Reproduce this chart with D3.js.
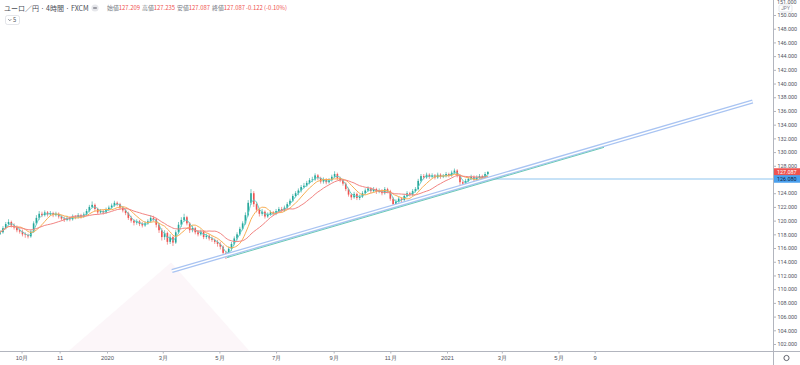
<!DOCTYPE html>
<html>
<head>
<meta charset="utf-8">
<title>ユーロ／円 4時間</title>
<script src="https://cdn.jsdelivr.net/npm/d3@7"></script>
<style>
  body { margin: 0; background: #fff; }
  svg { display: block; font-family: "Noto Sans CJK JP", "Noto Sans", sans-serif; }
</style>
</head>
<body>
<div id="chart"></div>
<script>
// candles: one every 3 days starting 2019-09-08, open = previous close
var startDate = Date.UTC(2019, 8, 8);
var stepDays = 3;
var firstOpen = 118.1;

var closes = [
  118.3,118.9,119.5,119.8,119.3,119.0,118.6,118.4,118.0,117.9,
  117.7,118.4,119.6,120.4,121.0,120.8,121.2,120.9,121.1,120.8,
  121.0,120.6,120.3,120.1,120.4,120.2,120.6,120.5,120.8,120.6,
  120.9,121.4,122.0,122.3,121.7,121.2,121.4,121.2,121.6,121.9,
  122.2,122.6,122.4,121.9,121.5,121.1,120.4,120.0,119.7,119.9,
  119.5,119.3,119.6,119.9,120.4,120.2,119.4,118.6,117.6,118.2,
  116.9,117.6,116.8,118.3,119.4,120.1,120.5,119.6,118.6,118.9,
  118.3,118.0,118.4,117.6,117.8,117.4,117.2,116.9,116.6,116.2,
  115.3,114.8,115.9,116.6,117.4,118.0,118.8,119.6,120.8,122.6,
  124.0,122.4,121.6,121.0,121.3,120.6,120.9,121.2,121.0,121.4,
  121.7,121.5,121.9,122.4,122.9,123.6,124.0,124.4,124.9,125.1,
  125.5,125.9,126.0,126.6,126.2,125.7,126.0,125.6,125.9,126.4,
  126.8,126.2,125.9,125.4,124.6,123.8,123.4,123.9,123.3,123.5,
  124.0,124.4,124.7,124.3,124.6,124.2,124.4,124.0,124.6,124.3,
  123.2,122.4,122.8,123.2,123.0,123.6,124.0,123.8,124.3,124.6,
  125.8,126.5,126.3,126.7,126.4,126.6,126.3,126.7,126.4,126.5,
  126.8,126.6,127.0,127.3,126.6,125.6,125.4,125.8,126.1,126.4,
  126.0,126.3,126.5,126.2,126.8,127.087
];
var highs = [
  118.6,119.2,119.8,120.2,120.0,119.6,119.3,118.9,118.7,118.3,
  118.1,118.7,119.9,120.8,121.4,121.3,121.5,121.4,121.4,121.3,
  121.3,121.2,120.8,120.6,120.7,120.6,120.9,120.8,121.1,121.0,
  121.2,121.7,122.3,122.8,122.5,121.9,121.7,121.6,121.9,122.2,
  122.5,122.9,122.8,122.6,122.1,121.7,121.3,120.7,120.2,120.2,
  120.1,119.8,119.9,120.2,120.8,120.7,120.4,119.6,118.9,118.6,
  118.4,118.0,117.8,118.6,119.8,120.5,121.0,120.7,119.8,119.3,
  119.1,118.6,118.7,118.6,118.1,118.0,117.7,117.4,117.2,116.9,
  116.4,115.6,116.2,116.9,117.7,118.3,119.1,119.9,121.2,123.0,
  124.6,124.3,122.7,121.9,121.7,121.5,121.2,121.5,121.4,121.7,
  122.0,122.0,122.2,122.7,123.2,123.9,124.3,124.7,125.2,125.5,
  125.8,126.2,126.4,126.9,126.8,126.4,126.3,126.2,126.2,126.7,
  127.2,127.0,126.4,126.1,125.6,124.8,124.0,124.2,124.1,123.8,
  124.3,124.7,125.0,124.9,124.9,124.8,124.7,124.6,124.9,124.8,
  124.5,123.4,123.1,123.5,123.4,123.9,124.3,124.2,124.6,124.9,
  126.1,126.8,126.8,127.0,126.9,126.9,126.8,127.0,126.9,126.8,
  127.1,127.0,127.3,127.6,127.5,126.8,125.8,126.1,126.4,126.7,
  126.6,126.6,126.8,126.7,127.1,127.235
];
var lows = [
  117.9,118.1,118.7,119.3,119.0,118.7,118.3,118.1,117.7,117.5,
  117.4,117.5,118.2,119.4,120.1,120.5,120.6,120.6,120.7,120.5,
  120.6,120.3,120.0,119.8,119.9,119.9,120.0,120.2,120.3,120.3,
  120.4,120.7,121.2,121.8,121.4,120.9,121.0,120.9,121.0,121.4,
  121.7,122.0,122.1,121.6,121.2,120.8,120.1,119.7,119.3,119.4,
  119.2,119.0,119.1,119.4,119.7,119.9,119.0,118.2,117.1,117.2,
  116.5,116.6,116.3,116.6,118.1,119.1,119.8,119.3,118.2,118.3,
  118.0,117.7,117.8,117.3,117.3,117.1,116.9,116.6,116.2,115.8,
  115.0,114.4,114.6,115.6,116.4,117.1,117.8,118.6,119.4,120.6,
  122.3,122.0,121.2,120.6,120.7,120.3,120.4,120.7,120.7,120.8,
  121.2,121.2,121.3,121.7,122.2,122.7,123.4,123.7,124.1,124.7,
  124.9,125.3,125.6,125.8,125.9,125.4,125.4,125.3,125.4,125.7,
  126.2,125.9,125.6,125.1,124.3,123.5,123.0,123.2,123.0,123.0,
  123.3,123.8,124.2,124.0,124.1,123.9,124.0,123.7,123.8,124.0,
  122.9,122.0,122.1,122.6,122.7,122.8,123.4,123.5,123.6,124.1,
  124.4,125.6,126.0,126.1,126.1,126.2,126.0,126.1,126.1,126.2,
  126.3,126.3,126.4,126.8,126.3,125.2,125.0,125.2,125.6,125.9,
  125.7,125.8,126.1,125.9,126.0,126.6
];

// moving average periods (in candles) and colours
var maPeriods = [3, 7, 15];
var maColors = ["#5fcfc6", "#f8ae52", "#f28482"];

// axes
var yTickValues = [102,104,106,108,110,112,114,116,118,120,122,124,126,128,130,
                   132,134,136,138,140,142,144,146,148,150];
var xTickDates = ["2019-10-01","2019-11-11","2020-01-01","2020-03-01","2020-05-01",
                  "2020-07-01","2020-09-01","2020-11-01","2021-01-01","2021-03-01",
                  "2021-05-01","2021-06-09"];
var xTickLabels = ["10月","11","2020","3月","5月","7月","9月","11月","2021","3月","5月","9"];

// legend values
var ohlcNames = ["始値", "高値", "安値", "終値"];
var ohlcValues = ["127.209", "127.235", "127.087", "127.087"];
var changeText = "-0.122 (-0.10%)";

// drawings
var trendStart = ["2020-03-11", 112.65];
var trendEnd = ["2021-11-26", 137.38];
var tealStart = ["2020-05-09", 114.6];
var tealEnd = ["2021-06-19", 130.69];
var hLinePrice = 126.080;
var hLineStart = "2021-02-13";
var lastPrice = 127.087;
var triangle = [["2019-11-21", 101.0], ["2020-03-10", 113.9], ["2020-06-02", 101.0]];

var W = 800, H = 365;
var plotR = 773, plotB = 351;
var axisFont = "Roboto, sans-serif";

var svg = d3.select("#chart").append("svg")
  .attr("width", W).attr("height", H);

var x = d3.scaleUtc()
  .domain([new Date(Date.UTC(2020,0,1)), new Date(Date.UTC(2021,0,1))])
  .range([107, 447]);
var y = d3.scaleLinear().domain([102, 150]).range([344, 15]);

var day = 864e5;
var candles = closes.map(function(c, i) {
  return {
    date: new Date(startDate + i*stepDays*day),
    open: i === 0 ? firstOpen : closes[i-1],
    high: highs[i], low: lows[i], close: c
  };
});

var plot = svg.append("g");
plot.append("clipPath").attr("id", "clip")
  .append("rect").attr("width", plotR).attr("height", plotB);
var g = plot.append("g").attr("clip-path", "url(#clip)");

// faint triangle
g.append("path")
  .attr("d", d3.line()(triangle.map(function(p) { return [x(new Date(p[0])), y(p[1])]; })) + "Z")
  .attr("fill", "#fcf6f9");

// candles
var cw = 1.6;
g.selectAll(".wick").data(candles).enter().append("line")
  .attr("x1", function(d) { return x(d.date); })
  .attr("x2", function(d) { return x(d.date); })
  .attr("y1", function(d) { return y(d.high); })
  .attr("y2", function(d) { return y(d.low); })
  .attr("stroke", function(d) { return d.close >= d.open ? "#26a69a" : "#ef5350"; })
  .attr("stroke-width", 0.6);
g.selectAll(".body").data(candles).enter().append("rect")
  .attr("x", function(d) { return x(d.date) - cw/2; })
  .attr("width", cw)
  .attr("y", function(d) { return y(Math.max(d.open, d.close)); })
  .attr("height", function(d) { return Math.max(0.6, Math.abs(y(d.open) - y(d.close))); })
  .attr("fill", function(d) { return d.close >= d.open ? "#26a69a" : "#ef5350"; });

// moving averages
maPeriods.forEach(function(n, k) {
  var ma = candles.map(function(d, i) {
    var s = closes.slice(Math.max(0, i - n + 1), i + 1);
    return [x(d.date), y(d3.mean(s))];
  });
  g.append("path").attr("d", d3.line().curve(d3.curveMonotoneX)(ma))
    .attr("fill", "none").attr("stroke", maColors[k]).attr("stroke-width", 1);
});

// horizontal line
g.append("line")
  .attr("x1", x(new Date(hLineStart))).attr("x2", plotR)
  .attr("y1", y(hLinePrice)).attr("y2", y(hLinePrice))
  .attr("stroke", "#b5d8f4").attr("stroke-width", 1.5);

// trend channel line (double blue) and teal line
var tl = [[x(new Date(trendStart[0])), y(trendStart[1])], [x(new Date(trendEnd[0])), y(trendEnd[1])]];
g.append("path").attr("d", d3.line()(tl)).attr("stroke", "#a9c4f2").attr("stroke-width", 4).attr("fill", "none");
g.append("path").attr("d", d3.line()(tl)).attr("stroke", "#fff").attr("stroke-width", 1.4).attr("fill", "none");
var tt = [[x(new Date(tealStart[0])), y(tealStart[1])], [x(new Date(tealEnd[0])), y(tealEnd[1])]];
g.append("path").attr("d", d3.line()(tt)).attr("stroke", "#6cc9b8").attr("stroke-width", 1).attr("fill", "none");

// right axis
svg.append("line").attr("x1", plotR + 0.5).attr("x2", plotR + 0.5).attr("y1", 0).attr("y2", H)
  .attr("stroke", "#b2b5be");
var yAxis = svg.append("g").attr("transform", "translate(" + (plotR + 0.5) + ",0)")
  .call(d3.axisRight(y).tickValues(yTickValues).tickFormat(d3.format(".3f")).tickSize(2.5).tickPadding(1.5));
yAxis.select(".domain").remove();
yAxis.selectAll("line").attr("stroke", "#b2b5be");
yAxis.selectAll("text").attr("fill", "#50535e").style("font-size", "5.4px").style("font-family", axisFont);

// partial top label and currency box
svg.append("text").attr("x", 777).attr("y", 3.6).text("151.000")
  .attr("fill", "#50535e").style("font-size", "5.4px").style("font-family", axisFont);
svg.append("rect").attr("x", 779).attr("y", 5).attr("width", 13).attr("height", 7).attr("rx", 1.5)
  .attr("fill", "#fff").attr("stroke", "#d1d4dc").attr("stroke-width", 0.6);
svg.append("text").attr("x", 785.5).attr("y", 10.3).attr("text-anchor", "middle").text("JPY")
  .attr("fill", "#787b86").style("font-size", "4.8px").style("font-family", axisFont);

// price labels
function priceTag(v, bg, fg) {
  svg.append("rect").attr("x", plotR + 1).attr("y", y(v) - 3.8).attr("width", W - plotR - 1).attr("height", 7.6)
    .attr("fill", bg);
  svg.append("text").attr("x", 777).attr("y", y(v) + 2).text(d3.format(".3f")(v))
    .attr("fill", fg).style("font-size", "5.4px").style("font-family", axisFont);
}
priceTag(lastPrice, "#ef5350", "#fff");
priceTag(hLinePrice, "#4aa0ee", "#13203a");

// bottom axis
svg.append("line").attr("x1", 0).attr("x2", W).attr("y1", plotB + 0.5).attr("y2", plotB + 0.5)
  .attr("stroke", "#b2b5be");
var xAxis = svg.append("g").attr("transform", "translate(0," + (plotB + 0.5) + ")")
  .call(d3.axisBottom(x).tickValues(xTickDates.map(function(s) { return new Date(s); }))
    .tickFormat(function(d, i) { return xTickLabels[i]; }).tickSize(2).tickPadding(2.5));
xAxis.select(".domain").remove();
xAxis.selectAll("line").attr("stroke", "#b2b5be");
xAxis.selectAll("text").attr("fill", "#50535e").style("font-size", "5.8px");

// settings gear
svg.append("circle").attr("cx", 786.5).attr("cy", 358).attr("r", 2.6)
  .attr("fill", "none").attr("stroke", "#50535e").attr("stroke-width", 0.9);

// header
svg.append("text").attr("x", 4).attr("y", 10.5).text("ユーロ／円 · 4時間 · FXCM")
  .attr("fill", "#4a4d57").style("font-size", "7px");
svg.append("circle").attr("cx", 95).attr("cy", 8).attr("r", 3.6).attr("fill", "#e6e7eb");
svg.append("rect").attr("x", 93.2).attr("y", 7.5).attr("width", 3.6).attr("height", 1).attr("fill", "#50535e");
var groupX = [107, 142, 177, 212];
ohlcNames.forEach(function(name, i) {
  var t = svg.append("text").attr("x", groupX[i]).attr("y", 10.3).style("font-size", "5.9px");
  t.append("tspan").text(name).attr("fill", "#787b86");
  t.append("tspan").text(ohlcValues[i]).attr("fill", "#ef5350");
});
svg.append("text").attr("x", 246).attr("y", 10.3).style("font-size", "5.9px")
  .attr("fill", "#ef5350").text(changeText);

// interval box
svg.append("rect").attr("x", 5.5).attr("y", 15.5).attr("width", 14).attr("height", 9).attr("rx", 2)
  .attr("fill", "#fff").attr("stroke", "#d1d4dc").attr("stroke-width", 0.6);
svg.append("path").attr("d", "M8.3,19.2 L9.8,20.7 L11.3,19.2").attr("fill", "none")
  .attr("stroke", "#50535e").attr("stroke-width", 0.7);
svg.append("text").attr("x", 13).attr("y", 22.3).text("5")
  .attr("fill", "#50535e").style("font-size", "5.8px");
</script>
</body>
</html>
